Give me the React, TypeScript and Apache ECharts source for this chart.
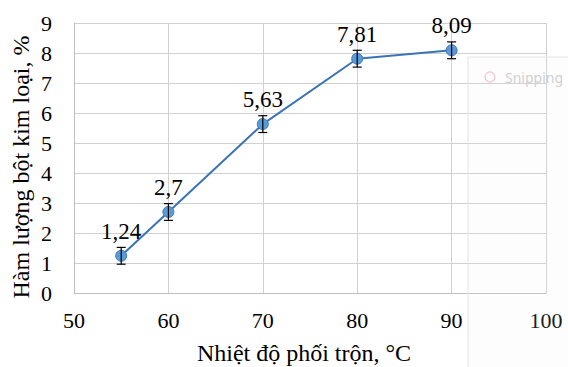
import React, { useEffect, useRef } from "react";
import * as echarts from "echarts";

const temperatures = [55, 60, 70, 80, 90];
const contents = [1.24, 2.7, 5.63, 7.81, 8.09];
const errors = [0.28, 0.28, 0.28, 0.28, 0.28];
const xTicks = { min: 50, max: 100, interval: 10 };
const yTicks = { min: 0, max: 9, interval: 1 };
const xName = "Nhiệt độ phối trộn, °C";
const yName = "Hàm lượng bột kim loại, %";

const FONT = "Times New Roman, Liberation Serif, serif";

export default function App() {
  const ref = useRef<HTMLDivElement>(null);
  useEffect(() => {
    if (!ref.current) return;
    const chart = echarts.init(ref.current, undefined, { renderer: "svg" });
    const lineData = temperatures.map((t, i) => [t, contents[i]]);
    const errData = temperatures.map((t, i) => [t, contents[i] - errors[i], contents[i] + errors[i]]);
    chart.setOption({
      animation: false,
      backgroundColor: "#ffffff",
      textStyle: { fontFamily: FONT },
      grid: { left: 74, top: 23, right: 22, bottom: 74 },
      xAxis: {
        type: "value",
        min: xTicks.min,
        max: xTicks.max,
        interval: xTicks.interval,
        axisLine: { show: true, lineStyle: { color: "#BFBFBF", width: 1 } },
        axisTick: { show: false },
        axisLabel: { fontFamily: FONT, fontSize: 22, color: "#000", margin: 16 },
        splitLine: { show: true, lineStyle: { color: "#D0D0D0", width: 1 } },
      },
      yAxis: {
        type: "value",
        min: yTicks.min,
        max: yTicks.max,
        interval: yTicks.interval,
        axisLine: { show: true, lineStyle: { color: "#BFBFBF", width: 1 } },
        axisTick: { show: false },
        axisLabel: { fontFamily: FONT, fontSize: 22, color: "#000", margin: 22 },
        splitLine: { show: true, lineStyle: { color: "#D0D0D0", width: 1 } },
      },
      graphic: [
        {
          type: "rect",
          shape: { x: 468, y: 57, width: 110, height: 320 },
          style: { fill: "rgba(235,235,235,0.12)", stroke: "#E4E4E4", lineWidth: 1 },
          silent: true,
          z: 1,
        },
        {
          type: "text",
          x: 505,
          y: 70,
          style: {
            text: "Snipping",
            fontFamily: "Noto Sans",
            fontSize: 14,
            fill: "#D0D0D0",
          },
          silent: true,
          z: 1,
        },
        {
          type: "circle",
          shape: { cx: 490, cy: 77, r: 5 },
          style: { fill: "none", stroke: "#F2C4C4", lineWidth: 1.2 },
          silent: true,
          z: 1,
        },
        {
          type: "text",
          x: 304,
          y: 353,
          style: {
            text: xName,
            fontFamily: FONT,
            fontSize: 24,
            fill: "#000",
            align: "center",
            verticalAlign: "middle",
          },
          z: 5,
        },
        {
          type: "text",
          x: 21,
          y: 167,
          rotation: Math.PI / 2,
          style: {
            text: yName,
            fontFamily: FONT,
            fontSize: 24,
            fill: "#000",
            align: "center",
            verticalAlign: "middle",
          },
          z: 5,
        },
      ],
      series: [
        {
          type: "line",
          data: lineData,
          symbol: "circle",
          symbolSize: 11,
          lineStyle: { color: "#3A74B5", width: 2 },
          itemStyle: { color: "#5B9BD5", borderColor: "#3F78B8", borderWidth: 1 },
          label: {
            show: true,
            position: "top",
            distance: 7,
            fontFamily: FONT,
            fontSize: 23,
            color: "#000",
            formatter: (p: any) => String(p.value[1]).replace(".", ","),
          },
          z: 3,
        },
        {
          type: "custom",
          data: errData,
          z: 4,
          renderItem: (params: any, api: any) => {
            const x = api.value(0);
            const lo = api.coord([x, api.value(1)]);
            const hi = api.coord([x, api.value(2)]);
            const cap = 4.5;
            const style = { stroke: "#000", lineWidth: 1.2 };
            return {
              type: "group",
              children: [
                { type: "line", shape: { x1: lo[0], y1: lo[1], x2: hi[0], y2: hi[1] }, style },
                { type: "line", shape: { x1: lo[0] - cap, y1: lo[1], x2: lo[0] + cap, y2: lo[1] }, style },
                { type: "line", shape: { x1: hi[0] - cap, y1: hi[1], x2: hi[0] + cap, y2: hi[1] }, style },
              ],
            };
          },
        },
      ],
    });
    return () => chart.dispose();
  }, []);
  return (
    <div
      ref={ref}
      style={{ position: "fixed", left: 0, top: 0, width: 568, height: 367 }}
    />
  );
}
